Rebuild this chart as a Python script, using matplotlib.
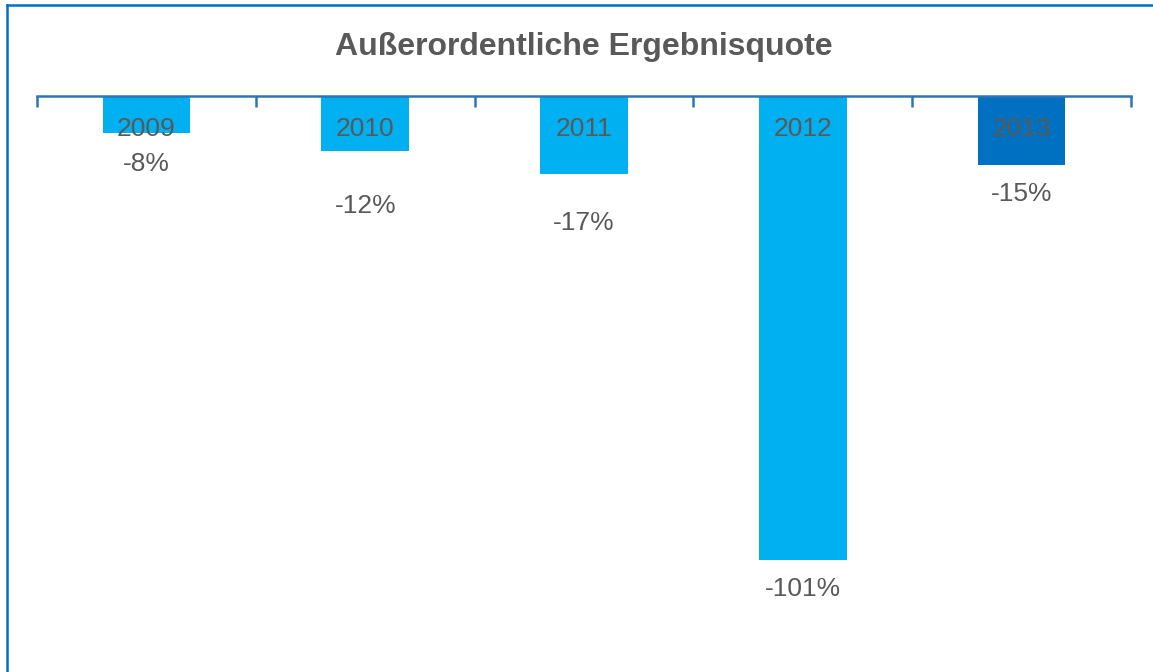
import matplotlib
matplotlib.use("Agg")
import matplotlib.pyplot as plt
from matplotlib.lines import Line2D

# Data
years = ["2009", "2010", "2011", "2012", "2013"]
values = [-8, -12, -17, -101, -15]
value_labels = ["-8%", "-12%", "-17%", "-101%", "-15%"]
title = "Außerordentliche Ergebnisquote"

# Styles / layout
bar_colors = ["#00B0F0", "#00B0F0", "#00B0F0", "#00B0F0", "#0070C0"]
label_offsets_px = [31, 55, 49, 29, 29]  # label distance below bar end
text_color = "#595959"
axis_color = "#2E75B6"
frame_color = "#0070C0"

plt.rcParams['font.family'] = ['Liberation Sans', 'DejaVu Sans']

W, H = 1153, 672
fig = plt.figure(figsize=(W / 100, H / 100), dpi=100)
ax = fig.add_axes([37 / W, 1 - 647 / H, 1094 / W, (647 - 96) / H])

x = list(range(len(years)))
ax.bar(x, values, width=0.40, color=bar_colors, zorder=2)
ax.set_xlim(-0.5, len(years) - 0.5)
ax.set_ylim(-120, 0)

for s in ["left", "right", "bottom"]:
    ax.spines[s].set_visible(False)
ax.spines["top"].set_color(axis_color)
ax.spines["top"].set_linewidth(1.8)
ax.spines["top"].set_zorder(3)

ax.set_yticks([])
ax.xaxis.tick_top()
ax.set_xticks([i - 0.5 for i in range(len(years) + 1)])
ax.set_xticklabels([])
ax.tick_params(axis="x", which="major", direction="in", length=8, width=1.8,
               color=axis_color, top=True, bottom=False)

for xi, yr, v, vl, off in zip(x, years, values, value_labels, label_offsets_px):
    ax.annotate(yr, xy=(xi, 0), xytext=(0, -33), textcoords="offset pixels",
                ha="center", va="center", fontsize=19, color=text_color, zorder=4)
    ax.annotate(vl, xy=(xi, v), xytext=(0, -off), textcoords="offset pixels",
                ha="center", va="center", fontsize=19, color=text_color, zorder=4)

fig.text(584 / W, 1 - 47 / H, title, ha="center", va="center",
         fontsize=23, fontweight="bold", color=text_color)

# Outer frame (left and top edges visible)
fig.add_artist(Line2D([7 / W, 7 / W], [0, 1 - 5 / H], transform=fig.transFigure,
                      color=frame_color, linewidth=1.8))
fig.add_artist(Line2D([7 / W, 1.0], [1 - 5 / H, 1 - 5 / H], transform=fig.transFigure,
                      color=frame_color, linewidth=1.8))

fig.savefig("out.png", dpi=100)
